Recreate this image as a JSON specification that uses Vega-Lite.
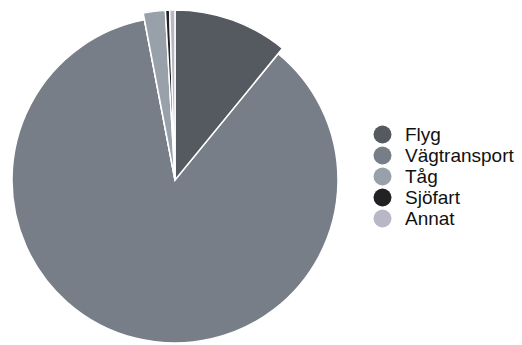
{
  "$schema": "https://vega.github.io/schema/vega-lite/v6.json",
  "autosize": "none",
  "width": 350,
  "height": 360,
  "padding": {"left": 0, "top": 0, "right": 172, "bottom": 0},
  "background": "white",
  "config": {"view": {"stroke": null}, "font": "Liberation Sans"},
  "data": {
    "values": [
      {"nr": 1, "kategori": "Flyg", "andel": 10.9},
      {"nr": 2, "kategori": "Vägtransport", "andel": 86.1},
      {"nr": 3, "kategori": "Tåg", "andel": 2.1},
      {"nr": 4, "kategori": "Sjöfart", "andel": 0.4},
      {"nr": 5, "kategori": "Annat", "andel": 0.5}
    ]
  },
  "encoding": {
    "theta": {"field": "andel", "type": "quantitative", "stack": true},
    "order": {"field": "nr", "type": "quantitative"},
    "color": {
      "field": "kategori",
      "type": "nominal",
      "sort": null,
      "scale": {
        "domain": ["Flyg", "Vägtransport", "Tåg", "Sjöfart", "Annat"],
        "range": ["#555960", "#777e88", "#98a1aa", "#222224", "#b8b7c5"]
      },
      "legend": {
        "title": null,
        "orient": "none",
        "legendX": 373,
        "legendY": 125,
        "symbolType": "circle",
        "symbolSize": 324,
        "symbolStrokeWidth": 0,
        "symbolOpacity": 1,
        "labelFontSize": 19,
        "labelColor": "#111111",
        "labelOffset": 13,
        "rowPadding": 1
      }
    }
  },
  "layer": [
    {
      "mark": {"type": "arc", "outerRadius": 163, "stroke": "white", "strokeWidth": 1.5}
    },
    {
      "mark": {"type": "arc", "outerRadius": 170, "stroke": "white", "strokeWidth": 1.5},
      "encoding": {
        "opacity": {
          "condition": {"test": "datum.kategori == 'Vägtransport'", "value": 0},
          "value": 1
        }
      }
    }
  ]
}
